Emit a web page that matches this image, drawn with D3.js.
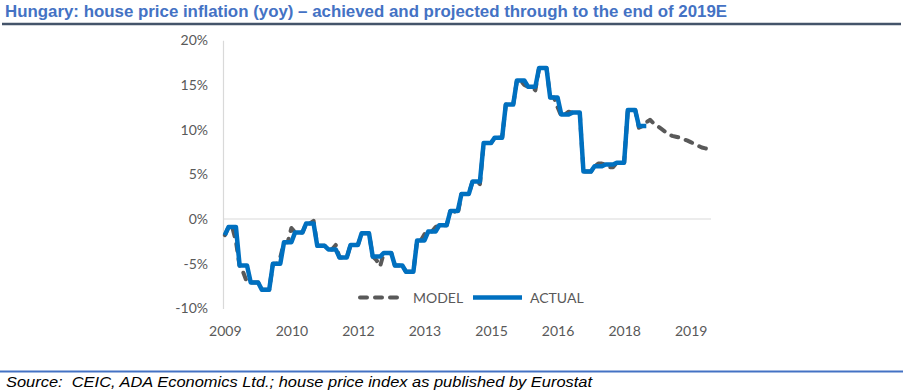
<!DOCTYPE html>
<html>
<head>
<meta charset="utf-8">
<script src="https://cdn.jsdelivr.net/npm/d3@7"></script>
<style>
  body { margin: 0; background: #fff; }
  svg { display: block; }
</style>
</head>
<body>
<script>
// values, monthly from Jan 2009 (index 0)

const yTicks = [-10, -5, 0, 5, 10, 15, 20];
const xTickIndex = [0, 18, 36, 54, 72, 90, 108, 126];
const xTickLabels = ['2009', '2010', '2012', '2013', '2015', '2016', '2018', '2019'];
const monthCount = 132;

const actual = [
  -1.8,
  -0.9, -0.9, -0.9,   -5.2, -5.2, -5.2,   -7.1, -7.1, -7.1,   -7.9, -7.9, -7.9,
  -5.0, -5.0, -5.0,   -2.6, -2.6, -2.6,   -1.5, -1.5, -1.5,   -0.5, -0.5, -0.5,
  -3.0, -3.0, -3.0,   -3.4, -3.4, -3.4,   -4.3, -4.3, -4.3,   -2.9, -2.9, -2.9,
  -1.6, -1.6, -1.6,   -4.2, -4.2, -4.2,   -3.8, -3.8, -3.8,   -5.2, -5.2, -5.2,
  -5.9, -5.9, -5.9,   -2.4, -2.4, -2.4,   -1.4, -1.4, -1.4,   -0.7, -0.7, -0.7,
   0.9,  0.9,  0.9,    2.8,  2.8,  2.8,    4.2,  4.2,  4.2,    8.5,  8.5,  8.5,
   9.1,  9.1,  9.1,   12.8, 12.8, 12.8,   15.5, 15.5, 15.5,   14.8, 14.8, 14.8,
  16.9, 16.9, 16.9,   13.6, 13.6, 13.6,   11.7, 11.7, 11.7,   11.9, 11.9, 11.9,
   5.3,  5.3,  5.3,    5.9,  5.9,  5.9,    6.1,  6.1,  6.1,    6.3,  6.3,  6.3,
  12.2, 12.2, 12.2,   10.4, 10.4, 10.4
];

const model = [
  -1.8,
  -0.9, -0.9, -2.5,   -5.3, -6.0, -7.1,   -7.1, -7.1, -7.1,   -7.9, -7.9, -7.9,
  -5.0, -5.0, -4.3,   -2.6, -2.6, -1.0,   -1.5, -1.5, -1.5,   -0.5, -0.5, -0.2,
  -3.0, -3.0, -3.0,   -3.4, -3.4, -2.9,   -4.3, -4.3, -4.3,   -2.9, -2.9, -2.9,
  -1.6, -1.6, -1.6,   -4.2, -4.6, -5.3,   -3.8, -3.8, -3.8,   -5.2, -5.2, -5.2,
  -5.9, -5.9, -5.9,   -2.4, -2.4, -1.7,   -1.4, -1.4, -0.9,   -0.7, -0.7, -0.7,
   0.9,  0.9,  0.5,    2.8,  2.8,  2.8,    4.2,  4.2,  3.9,    8.5,  8.5,  8.5,
   9.1,  9.1,  9.1,   12.8, 12.8, 12.8,   15.5, 15.5, 15.0,   14.8, 14.8, 14.4,
  16.9, 16.9, 16.9,   13.6, 13.6, 12.5,   11.5, 11.7, 12.0,   11.9, 11.9, 11.9,
   5.3,  5.3,  5.3,    5.9,  6.2,  6.2,    6.1,  5.8,  5.8,    6.3,  6.3,  6.3,
  12.2, 12.2, 12.2,   10.2, 10.4, 10.8,
  11.1, 10.7, 10.4, 10.1, 9.8, 9.5, 9.3, 9.2, 9.1, 8.9, 8.8, 8.6, 8.4, 8.2, 8.0, 7.9, 7.8
];

const width = 903;
const height = 390;
const chartFont = 'Lato, "Open Sans", sans-serif';
const textGrey = '#595959';

const svg = d3.select('body')
              .append('svg')
              .attr('width', width)
              .attr('height', height);

svg.append('rect')
   .attr('width', width)
   .attr('height', height)
   .attr('fill', '#fff');

// title + rules
svg.append('text')
   .attr('x', 5)
   .attr('y', 16.5)
   .attr('font-family', '"Liberation Sans", Arial, sans-serif')
   .attr('font-weight', 'bold')
   .attr('font-size', 16)
   .attr('textLength', 722)
   .attr('lengthAdjust', 'spacingAndGlyphs')
   .attr('fill', '#4472C4')
   .text('Hungary: house price inflation (yoy) \u2013 achieved and projected through to the end of 2019E');

svg.append('line')
   .attr('x1', 2).attr('x2', 901)
   .attr('y1', 24).attr('y2', 24)
   .attr('stroke', '#44546A')
   .attr('stroke-width', 2.5);

svg.append('line')
   .attr('x1', 0).attr('x2', width)
   .attr('y1', 371.5).attr('y2', 371.5)
   .attr('stroke', '#4472C4')
   .attr('stroke-width', 2);

svg.append('text')
   .attr('x', 6)
   .attr('y', 386.5)
   .attr('font-family', '"Liberation Sans", Arial, sans-serif')
   .attr('font-style', 'italic')
   .attr('font-size', 15.5)
   .attr('textLength', 586)
   .attr('lengthAdjust', 'spacingAndGlyphs')
   .attr('fill', '#000')
   .attr('xml:space', 'preserve')
   .style('white-space', 'pre')
   .text('Source:  CEIC, ADA Economics Ltd.; house price index as published by Eurostat');

// scales
const xScale = d3.scaleLinear()
                 .domain([-0.5, monthCount - 0.5])
                 .range([223, 711]);

const yScale = d3.scaleLinear()
                 .domain([-10, 20])
                 .range([308.4, 40.2]);

// zero gridline
svg.append('line')
   .attr('x1', xScale.range()[0]).attr('x2', xScale.range()[1])
   .attr('y1', yScale(0)).attr('y2', yScale(0))
   .attr('stroke', '#D9D9D9')
   .attr('stroke-width', 1.2);

// y axis
const yAxis = d3.axisLeft(yScale)
                .tickValues(yTicks)
                .tickSize(0)
                .tickPadding(15)
                .tickFormat(d => d + '%');

const yG = svg.append('g')
              .attr('transform', `translate(${xScale.range()[0]}, 0)`)
              .call(yAxis);
yG.select('.domain').attr('stroke', '#D9D9D9').attr('stroke-width', 1.2);
yG.selectAll('text')
  .attr('font-family', chartFont)
  .attr('font-size', 14)
  .attr('fill', textGrey);

// x axis (labels only)
const xAxis = d3.axisBottom(xScale)
                .tickValues(xTickIndex)
                .tickSize(0)
                .tickPadding(0)
                .tickFormat((d, i) => xTickLabels[i]);

const xG = svg.append('g')
              .attr('transform', `translate(0, ${yScale(-10)})`)
              .call(xAxis);
xG.select('.domain').remove();
xG.selectAll('text')
  .attr('y', 28)
  .attr('dy', 0)
  .attr('font-family', chartFont)
  .attr('font-size', 14)
  .attr('fill', textGrey);

// lines
const line = d3.line()
               .x((d, i) => xScale(i))
               .y(d => yScale(d));

svg.append('path')
   .datum(model)
   .attr('d', line)
   .attr('fill', 'none')
   .attr('stroke', '#595959')
   .attr('stroke-width', 4)
   .attr('stroke-dasharray', '7,8')
   .attr('stroke-linecap', 'round')
   .attr('stroke-linejoin', 'round');

svg.append('path')
   .datum(actual)
   .attr('d', line)
   .attr('fill', 'none')
   .attr('stroke', '#0070C0')
   .attr('stroke-width', 4.5)
   .attr('stroke-linejoin', 'round');

// legend
const legend = svg.append('g').attr('transform', 'translate(0, 297.5)');

legend.append('line')
      .attr('x1', 360).attr('x2', 400)
      .attr('stroke', '#595959')
      .attr('stroke-width', 4)
      .attr('stroke-dasharray', '7,8')
      .attr('stroke-linecap', 'round');

legend.append('text')
      .attr('x', 413)
      .attr('y', 5)
      .attr('font-family', chartFont)
      .attr('font-size', 14)
      .attr('fill', textGrey)
      .text('MODEL');

legend.append('line')
      .attr('x1', 473).attr('x2', 522)
      .attr('stroke', '#0070C0')
      .attr('stroke-width', 4.5);

legend.append('text')
      .attr('x', 530)
      .attr('y', 5)
      .attr('font-family', chartFont)
      .attr('font-size', 14)
      .attr('fill', textGrey)
      .text('ACTUAL');
</script>
</body>
</html>
